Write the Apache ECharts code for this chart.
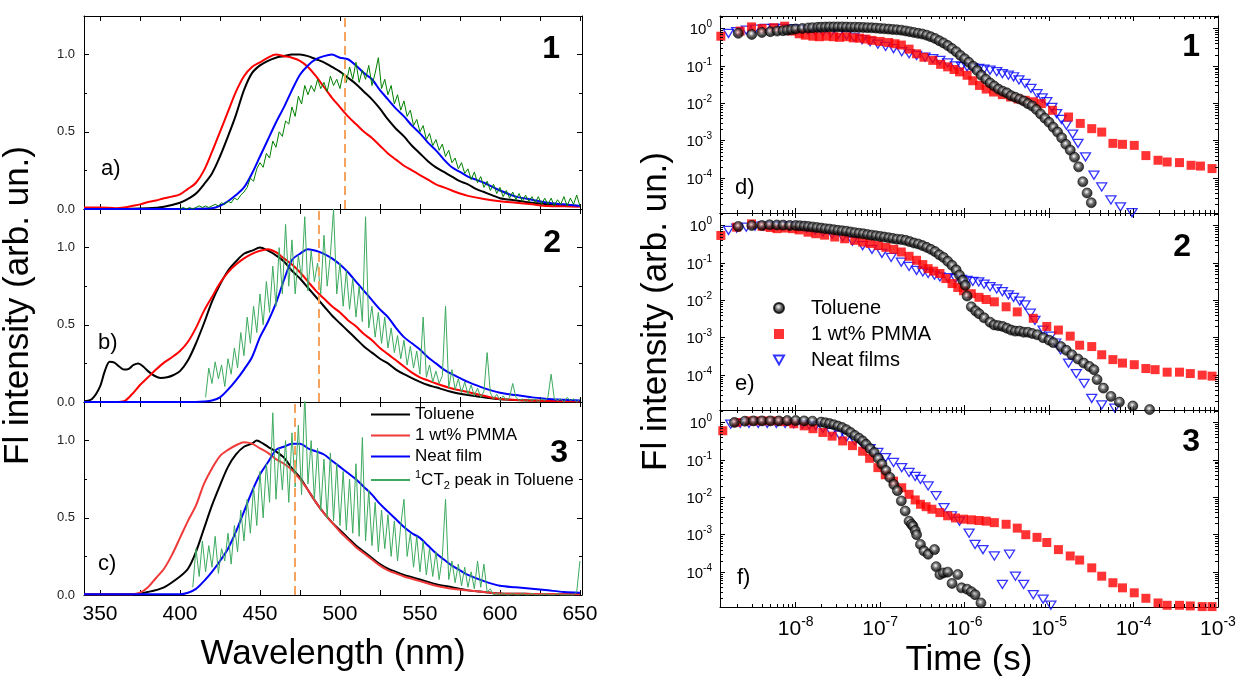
<!DOCTYPE html>
<html><head><meta charset="utf-8">
<script src="https://cdn.jsdelivr.net/npm/echarts@6/dist/echarts.min.js"></script>
<style>html,body{margin:0;padding:0;background:#fff}#c{width:1239px;height:676px}</style>
</head><body><div id="c"></div>
<script>
const FONT = 'Arial, "Liberation Sans", Helvetica, sans-serif';

// ---------------- Steady-state spectra: [wavelength (nm), normalised intensity] ----------------
const toluene1 = [[340,0],[360,0],[380,0.005],[390,0.015],[400,0.04],[405,0.065],[410,0.10],[415,0.16],[420,0.23],[425,0.34],[430,0.47],[435,0.61],[440,0.77],[445,0.88],[450,0.93],[455,0.96],[460,0.98],[465,0.99],[470,1.0],[475,1.0],[480,0.99],[485,0.97],[490,0.95],[495,0.92],[500,0.89],[505,0.85],[510,0.81],[515,0.76],[520,0.71],[525,0.65],[530,0.58],[535,0.52],[540,0.47],[545,0.41],[550,0.36],[555,0.31],[560,0.27],[565,0.24],[570,0.21],[575,0.18],[580,0.16],[585,0.13],[590,0.11],[595,0.09],[600,0.07],[610,0.055],[620,0.04],[630,0.03],[640,0.025],[650,0.02]];
const pmma1 = [[340,0.01],[350,0.01],[360,0.005],[365,0.01],[370,0.02],[375,0.03],[380,0.045],[385,0.055],[390,0.07],[395,0.08],[400,0.095],[405,0.13],[410,0.17],[415,0.25],[420,0.37],[425,0.50],[430,0.63],[435,0.76],[440,0.86],[445,0.92],[450,0.95],[455,0.98],[460,1.0],[465,0.99],[470,0.98],[475,0.96],[480,0.92],[485,0.86],[490,0.79],[495,0.72],[500,0.66],[505,0.60],[510,0.55],[515,0.50],[520,0.46],[525,0.41],[530,0.36],[535,0.32],[540,0.28],[545,0.25],[550,0.22],[555,0.19],[560,0.16],[565,0.14],[570,0.12],[575,0.10],[580,0.085],[590,0.065],[600,0.05],[610,0.04],[620,0.03],[630,0.02],[640,0.018],[650,0.015]];
const neat1 = [[340,0],[400,0],[420,0.005],[425,0.02],[430,0.05],[435,0.09],[440,0.14],[445,0.23],[450,0.34],[455,0.45],[460,0.56],[465,0.66],[470,0.77],[475,0.87],[480,0.93],[485,0.97],[490,0.99],[495,1.0],[500,0.98],[505,0.97],[510,0.93],[515,0.88],[520,0.84],[525,0.77],[530,0.71],[535,0.65],[540,0.60],[545,0.54],[550,0.49],[555,0.43],[560,0.38],[565,0.32],[570,0.27],[575,0.24],[580,0.21],[585,0.19],[590,0.17],[595,0.145],[600,0.12],[610,0.08],[620,0.06],[630,0.04],[640,0.03],[650,0.02]];
const ct2Start1 = 400;
const ct2Vals1 = [0.00,0.01,0.00,0.01,0.00,0.01,0.02,0.01,0.02,0.01,
  0.02,0.03,0.02,0.04,0.03,0.05,0.04,0.07,0.06,0.09,
  0.11,0.14,0.20,0.18,0.26,0.30,0.27,0.36,0.33,0.44,
  0.40,0.50,0.47,0.57,0.55,0.66,0.60,0.73,0.68,0.80,
  0.74,0.80,0.76,0.84,0.78,0.82,0.76,0.86,0.80,0.84,
  0.78,0.88,0.82,0.92,0.84,0.95,0.82,0.90,0.84,0.93,
  0.80,0.88,0.98,0.78,0.84,0.74,0.80,0.68,0.74,0.64,
  0.70,0.60,0.64,0.54,0.58,0.50,0.54,0.45,0.49,0.41,
  0.45,0.38,0.42,0.34,0.38,0.30,0.33,0.26,0.30,0.23,
  0.26,0.19,0.24,0.17,0.21,0.14,0.18,0.12,0.16,0.10,
  0.14,0.08,0.12,0.07,0.11,0.06,0.10,0.05,0.09,0.05,
  0.08,0.04,0.08,0.03,0.07,0.03,0.07,0.02,0.06,0.03,
  0.08,0.02,0.07,0.03,0.09,0.02];

const toluene2 = [[340,0.005],[345,0.02],[350,0.10],[353,0.2],[356,0.26],[359,0.255],[362,0.23],[365,0.21],[368,0.215],[371,0.24],[374,0.25],[377,0.23],[380,0.20],[384,0.17],[388,0.155],[392,0.16],[396,0.175],[400,0.20],[405,0.27],[410,0.38],[415,0.51],[420,0.65],[425,0.76],[430,0.85],[435,0.91],[440,0.96],[445,0.98],[450,1.0],[455,0.98],[460,0.95],[465,0.91],[470,0.85],[475,0.80],[480,0.74],[485,0.68],[490,0.62],[495,0.56],[500,0.51],[505,0.46],[510,0.41],[515,0.36],[520,0.32],[525,0.28],[530,0.25],[535,0.21],[540,0.18],[545,0.155],[550,0.13],[555,0.11],[560,0.095],[570,0.065],[580,0.045],[590,0.03],[600,0.018],[620,0.01],[650,0.004]];
const pmma2 = [[340,0],[360,0],[365,0.005],[370,0.05],[375,0.11],[380,0.16],[385,0.21],[390,0.255],[395,0.29],[400,0.33],[405,0.39],[410,0.48],[415,0.59],[420,0.68],[425,0.77],[430,0.84],[435,0.89],[440,0.93],[445,0.96],[450,0.98],[455,0.99],[460,0.97],[465,0.93],[470,0.89],[475,0.84],[480,0.78],[485,0.72],[490,0.67],[495,0.62],[500,0.58],[505,0.53],[510,0.49],[515,0.44],[520,0.40],[525,0.35],[530,0.31],[535,0.27],[540,0.23],[545,0.19],[550,0.16],[555,0.14],[560,0.12],[570,0.087],[580,0.065],[590,0.04],[600,0.02],[620,0.01],[650,0.005]];
const neat2 = [[340,0],[410,0],[415,0.003],[420,0.01],[425,0.03],[430,0.08],[435,0.14],[440,0.21],[445,0.29],[450,0.42],[455,0.52],[460,0.64],[465,0.79],[470,0.92],[475,0.96],[480,0.99],[485,0.98],[490,0.96],[495,0.93],[500,0.89],[505,0.84],[510,0.78],[515,0.72],[520,0.66],[525,0.60],[530,0.55],[535,0.48],[540,0.42],[545,0.38],[550,0.34],[555,0.29],[560,0.25],[565,0.21],[570,0.18],[575,0.155],[580,0.13],[590,0.09],[600,0.06],[610,0.045],[620,0.03],[630,0.02],[640,0.015],[650,0.01]];
const ct2Start2 = 416;
const ct2Vals2 = [0.03,0.22,0.12,0.26,0.15,0.24,0.10,0.28,0.18,0.35,
  0.22,0.45,0.30,0.55,0.38,0.62,0.45,0.70,0.50,0.78,
  0.58,0.88,0.62,1.00,0.70,1.15,0.75,1.05,0.70,0.95,
  0.80,1.20,0.72,0.98,0.78,0.90,0.70,1.08,0.75,0.95,
  1.25,0.70,0.90,0.62,0.85,0.60,0.80,0.55,0.75,0.52,
  1.20,0.48,0.62,0.42,0.58,0.38,0.55,0.35,0.48,0.32,
  0.43,0.28,0.40,0.24,0.36,0.22,0.33,0.18,0.55,0.16,
  0.24,0.13,0.20,0.12,0.17,0.62,0.09,0.21,0.08,0.15,
  0.06,0.13,0.05,0.11,0.04,0.09,0.03,0.07,0.32,0.06,
  0.02,0.05,0.01,0.04,0.01,0.03,0.12,0.03,0.01,0.02,
  0.00,0.02,0.01,0.02,0.00,0.02,0.01,0.03,0.18,0.02,
  0.01,0.02,0.00,0.03,0.01,0.02,0.00,0.02];

const toluene3 = [[340,0.005],[370,0.005],[380,0.02],[390,0.05],[400,0.12],[405,0.17],[410,0.28],[415,0.43],[420,0.58],[425,0.71],[430,0.83],[435,0.91],[440,0.96],[445,0.98],[448,1.0],[452,0.98],[455,0.96],[460,0.93],[465,0.89],[470,0.82],[475,0.76],[480,0.68],[485,0.60],[490,0.53],[495,0.47],[500,0.42],[505,0.37],[510,0.32],[515,0.28],[520,0.24],[525,0.20],[530,0.17],[535,0.15],[540,0.13],[545,0.115],[550,0.10],[555,0.085],[560,0.07],[570,0.05],[580,0.03],[590,0.02],[600,0.01],[620,0.007],[650,0.005]];
const pmma3 = [[340,0.005],[370,0.005],[375,0.015],[380,0.05],[385,0.11],[390,0.17],[395,0.26],[400,0.37],[405,0.48],[410,0.58],[415,0.72],[420,0.82],[425,0.90],[430,0.94],[435,0.97],[440,0.99],[445,0.98],[450,0.95],[455,0.92],[460,0.88],[465,0.85],[470,0.81],[475,0.75],[480,0.68],[485,0.60],[490,0.53],[495,0.47],[500,0.41],[505,0.36],[510,0.31],[515,0.27],[520,0.23],[525,0.19],[530,0.16],[535,0.14],[540,0.12],[545,0.105],[550,0.09],[555,0.075],[560,0.06],[570,0.04],[580,0.03],[590,0.02],[600,0.01],[620,0.007],[650,0.005]];
const neat3 = [[340,0.005],[400,0.005],[405,0.015],[410,0.04],[415,0.09],[420,0.15],[425,0.22],[430,0.30],[435,0.41],[440,0.54],[445,0.67],[450,0.78],[455,0.86],[460,0.94],[465,0.96],[470,0.98],[475,0.98],[480,0.95],[485,0.93],[490,0.91],[495,0.87],[500,0.83],[505,0.79],[510,0.75],[515,0.70],[520,0.65],[525,0.59],[530,0.54],[535,0.49],[540,0.44],[545,0.40],[550,0.37],[555,0.32],[560,0.27],[565,0.23],[570,0.19],[575,0.16],[580,0.13],[590,0.09],[600,0.06],[610,0.05],[620,0.04],[630,0.03],[640,0.02],[650,0.015]];
const ct2Start3 = 408;
const ct2Vals3 = [0.05,0.30,0.12,0.35,0.15,0.32,0.18,0.38,0.14,0.30,
  0.22,0.40,0.20,0.45,0.28,0.55,0.35,0.62,0.40,0.70,
  0.45,0.80,0.50,0.85,0.60,1.18,0.62,0.95,0.68,1.00,
  0.60,1.05,0.70,1.10,0.65,1.30,0.72,1.00,0.62,0.95,
  0.55,0.88,0.50,0.92,0.48,0.85,0.45,0.80,0.42,0.75,
  0.40,0.85,0.38,1.02,0.35,0.68,0.32,0.60,0.28,0.55,
  0.30,0.52,0.25,0.48,0.22,0.45,0.62,0.25,0.40,0.18,
  0.38,0.15,0.35,0.13,0.30,0.12,0.28,0.10,0.25,0.62,
  0.10,0.22,0.08,0.20,0.06,0.18,0.05,0.15,0.04,0.22,
  0.05,0.20,0.02,0.04,0.00,0.01,0.00,0.01,0.00,0.00,
  0.01,0.00,0.00,0.01,0.00,0.00,0.01,0.00,0.00,0.00,
  0.01,0.00,0.00,0.00,0.01,0.00,0.00,0.00,0.00,0.00,
  0.02,0.22];
const ct2Step = 2;
const peakLines = [503, 487, 472];

// ---------------- Decays: [time (s), normalised intensity] ----------------
const tolDecay1 = [[2.09e-9,0.74],[3.02e-9,0.69],[3.98e-9,0.78],[5.01e-9,0.82],[6.03e-9,0.85],[7.08e-9,0.87],[7.94e-9,0.90],[8.91e-9,0.93],[1.0e-8,0.97],[1.2e-8,1.0],[1.41e-8,1.03],[1.58e-8,1.05],[1.82e-8,1.07],[2.0e-8,1.08],[2.24e-8,1.09],[2.51e-8,1.10],[2.82e-8,1.10],[3.16e-8,1.10],[3.55e-8,1.10],[3.98e-8,1.09],[4.47e-8,1.08],[5.01e-8,1.08],[5.62e-8,1.07],[6.31e-8,1.06],[7.08e-8,1.05],[7.94e-8,1.04],[8.91e-8,1.02],[1.0e-7,1.0],[1.12e-7,0.98],[1.26e-7,0.96],[1.41e-7,0.94],[1.58e-7,0.92],[1.78e-7,0.90],[2.0e-7,0.86],[2.24e-7,0.82],[2.51e-7,0.78],[2.82e-7,0.74],[3.16e-7,0.71],[3.55e-7,0.66],[3.98e-7,0.60],[4.47e-7,0.54],[5.01e-7,0.47],[5.62e-7,0.41],[6.31e-7,0.35],[7.08e-7,0.29],[7.94e-7,0.24],[8.91e-7,0.19],[1.0e-6,0.155],[1.12e-6,0.125],[1.26e-6,0.098],[1.41e-6,0.075],[1.58e-6,0.056],[1.78e-6,0.044],[2.0e-6,0.035],[2.24e-6,0.029],[2.51e-6,0.024],[2.82e-6,0.021],[3.16e-6,0.019],[3.55e-6,0.016],[3.98e-6,0.0145],[4.47e-6,0.013],[5.01e-6,0.0115],[5.62e-6,0.0098],[6.31e-6,0.0085],[7.08e-6,0.0068],[7.94e-6,0.0052],[8.91e-6,0.0040],[1.0e-5,0.0031],[1.12e-5,0.0023],[1.26e-5,0.0017],[1.41e-5,0.0012],[1.58e-5,8.0e-4],[1.78e-5,5.6e-4],[2.0e-5,3.6e-4],[2.24e-5,2.0e-4],[2.51e-5,8.0e-5],[2.82e-5,4.0e-5],[3.16e-5,2.2e-5]];
const pmmaDecay1 = [[1.3e-9,0.62],[2.2e-9,0.85],[3.0e-9,1.10],[4.0e-9,1.0],[5.5e-9,1.05],[7.4e-9,1.15],[9.0e-9,0.85],[1.1e-8,0.72],[1.3e-8,0.66],[1.6e-8,0.62],[1.9e-8,0.60],[2.3e-8,0.62],[2.8e-8,0.60],[3.3e-8,0.58],[4.0e-8,0.60],[4.8e-8,0.56],[5.7e-8,0.55],[6.8e-8,0.52],[8.0e-8,0.48],[1.0e-7,0.45],[1.26e-7,0.42],[1.5e-7,0.39],[1.78e-7,0.36],[2.2e-7,0.28],[2.7e-7,0.21],[3.3e-7,0.17],[4.2e-7,0.14],[5.2e-7,0.11],[6.3e-7,0.094],[7.5e-7,0.08],[8.7e-7,0.069],[1.07e-6,0.056],[1.25e-6,0.040],[1.5e-6,0.030],[1.8e-6,0.024],[2.2e-6,0.020],[2.8e-6,0.017],[3.5e-6,0.0147],[4.3e-6,0.013],[5.2e-6,0.012],[6.5e-6,0.011],[8.1e-6,0.0098],[1.1e-5,0.0065],[1.7e-5,0.0043],[2.34e-5,0.0029],[3.2e-5,0.0021],[4.2e-5,0.0017],[5.7e-5,8.5e-4],[7.4e-5,8.0e-4],[1.02e-4,7.5e-4],[1.4e-4,4.0e-4],[1.95e-4,3.0e-4],[2.5e-4,2.7e-4],[3.5e-4,2.6e-4],[4.8e-4,2.2e-4],[6.2e-4,2.1e-4],[8.5e-4,1.8e-4]];
const neatDecay1 = [[1.6e-9,0.74],[2.0e-9,0.82],[2.6e-9,0.9],[3.3e-9,0.95],[4.4e-9,1.0],[5.5e-9,1.0],[7.0e-9,1.0],[9.0e-9,0.98],[1.1e-8,0.95],[1.4e-8,0.9],[1.7e-8,0.86],[2.1e-8,0.81],[2.6e-8,0.76],[3.2e-8,0.70],[4.0e-8,0.66],[4.9e-8,0.58],[6.1e-8,0.50],[7.6e-8,0.44],[9.4e-8,0.38],[1.16e-7,0.33],[1.44e-7,0.29],[1.8e-7,0.24],[2.2e-7,0.21],[2.7e-7,0.19],[3.4e-7,0.17],[4.2e-7,0.155],[5.1e-7,0.14],[6.3e-7,0.12],[7.8e-7,0.10],[9.2e-7,0.097],[1.07e-6,0.094],[1.25e-6,0.09],[1.47e-6,0.085],[1.7e-6,0.081],[2.0e-6,0.077],[2.4e-6,0.07],[2.8e-6,0.062],[3.3e-6,0.056],[3.8e-6,0.051],[4.4e-6,0.042],[5.2e-6,0.034],[6.1e-6,0.025],[7.2e-6,0.018],[8.3e-6,0.014],[9.4e-6,0.011],[1.08e-5,0.0078],[1.23e-5,0.0053],[1.4e-5,0.0037],[1.6e-5,0.0026],[1.9e-5,0.0015],[2.2e-5,8.5e-4],[2.7e-5,3.7e-4],[3.4e-5,1.2e-4],[4.2e-5,5.8e-5],[5.4e-5,2.6e-5],[7.0e-5,1.7e-5],[9.6e-5,1.2e-5]];

const tolDecay2 = [[2.09e-9,0.94],[3.02e-9,1.0],[3.98e-9,1.0],[4.9e-9,1.04],[6.0e-9,1.03],[7.1e-9,1.02],[8.5e-9,1.0],[1.0e-8,1.0],[1.12e-8,0.98],[1.26e-8,0.96],[1.41e-8,0.94],[1.58e-8,0.91],[1.78e-8,0.88],[2.0e-8,0.85],[2.24e-8,0.82],[2.51e-8,0.80],[2.82e-8,0.77],[3.16e-8,0.74],[3.55e-8,0.72],[3.98e-8,0.70],[4.47e-8,0.67],[5.01e-8,0.64],[5.62e-8,0.62],[6.31e-8,0.60],[7.08e-8,0.57],[7.94e-8,0.55],[8.91e-8,0.53],[1.0e-7,0.51],[1.12e-7,0.49],[1.26e-7,0.47],[1.41e-7,0.45],[1.58e-7,0.43],[1.78e-7,0.42],[2.0e-7,0.40],[2.24e-7,0.37],[2.51e-7,0.34],[2.82e-7,0.32],[3.16e-7,0.29],[3.55e-7,0.26],[3.98e-7,0.23],[4.47e-7,0.20],[5.01e-7,0.165],[5.62e-7,0.14],[6.31e-7,0.11],[7.08e-7,0.086],[7.94e-7,0.065],[8.7e-7,0.047],[9.5e-7,0.034],[1.02e-6,0.025],[1.07e-6,0.013],[1.2e-6,0.0067],[1.35e-6,0.0052],[1.48e-6,0.0044],[1.7e-6,0.0034],[2.0e-6,0.0026],[2.24e-6,0.0022],[2.51e-6,0.0021],[2.82e-6,0.0020],[3.16e-6,0.0018],[3.55e-6,0.0016],[3.98e-6,0.0015],[4.47e-6,0.0015],[5.01e-6,0.0014],[5.62e-6,0.0014],[6.31e-6,0.0013],[7.24e-6,0.0012],[8.5e-6,0.0010],[1.0e-5,8.6e-4],[1.12e-5,7.4e-4],[1.38e-5,5.8e-4],[1.6e-5,4.6e-4],[1.86e-5,3.5e-4],[2.2e-5,2.7e-4],[2.57e-5,2.1e-4],[3.0e-5,1.7e-4],[3.4e-5,1.4e-4],[3.7e-5,7.6e-5],[4.4e-5,4.5e-5],[5.4e-5,2.7e-5],[6.8e-5,1.9e-5],[9.8e-5,1.5e-5],[1.55e-4,1.2e-5]];
const pmmaDecay2 = [[1.3e-9,0.54],[2.0e-9,0.9],[3.0e-9,1.1],[4.0e-9,0.95],[5.0e-9,0.88],[6.0e-9,0.82],[7.5e-9,0.85],[9.2e-9,0.82],[1.1e-8,0.76],[1.4e-8,0.66],[1.73e-8,0.60],[2.2e-8,0.55],[2.9e-8,0.49],[3.8e-8,0.44],[5.0e-8,0.40],[6.2e-8,0.36],[7.6e-8,0.33],[9.5e-8,0.29],[1.17e-7,0.26],[1.45e-7,0.23],[1.78e-7,0.195],[2.2e-7,0.15],[2.7e-7,0.117],[3.2e-7,0.09],[3.7e-7,0.07],[4.3e-7,0.06],[5.1e-7,0.052],[6.0e-7,0.038],[7.1e-7,0.028],[8.3e-7,0.022],[9.7e-7,0.018],[1.2e-6,0.015],[1.48e-6,0.012],[1.8e-6,0.0105],[2.25e-6,0.0091],[3.1e-6,0.0067],[4.2e-6,0.0049],[6.5e-6,0.0033],[9.4e-6,0.0020],[1.29e-5,0.0016],[1.78e-5,0.0011],[2.3e-5,6.3e-4],[3.2e-5,5.8e-4],[4.2e-5,3.5e-4],[5.7e-5,2.6e-4],[7.4e-5,2.1e-4],[1.02e-4,1.9e-4],[1.4e-4,1.5e-4],[1.8e-4,1.4e-4],[2.5e-4,1.2e-4],[3.5e-4,1.2e-4],[4.7e-4,1.1e-4],[6.5e-4,1.0e-4],[8.5e-4,9.4e-5]];
const neatDecay2 = [[1.6e-9,0.74],[2.0e-9,0.85],[2.6e-9,0.9],[3.3e-9,0.95],[4.2e-9,0.96],[5.3e-9,0.96],[6.7e-9,0.96],[8.5e-9,0.95],[1.07e-8,0.92],[1.35e-8,0.85],[1.7e-8,0.75],[2.1e-8,0.66],[2.7e-8,0.58],[3.6e-8,0.49],[4.7e-8,0.38],[6.2e-8,0.29],[8.0e-8,0.23],[1.05e-7,0.18],[1.35e-7,0.14],[1.78e-7,0.105],[2.2e-7,0.08],[2.7e-7,0.063],[3.2e-7,0.057],[3.7e-7,0.052],[4.4e-7,0.047],[5.1e-7,0.042],[6.3e-7,0.040],[7.8e-7,0.038],[9.2e-7,0.036],[1.07e-6,0.034],[1.25e-6,0.032],[1.47e-6,0.031],[1.7e-6,0.027],[2.0e-6,0.023],[2.4e-6,0.020],[2.8e-6,0.017],[3.3e-6,0.014],[3.8e-6,0.012],[4.5e-6,0.0095],[5.2e-6,0.0075],[6.0e-6,0.0045],[6.8e-6,0.0029],[8.5e-6,0.0016],[1.05e-5,0.0011],[1.2e-5,7.2e-4],[1.37e-5,4.7e-4],[1.7e-5,2.1e-4],[2.1e-5,1.1e-4],[2.6e-5,6.0e-5],[3.2e-5,2.4e-5],[4.2e-5,1.6e-5],[6.0e-5,1.3e-5]];

const tolDecay3 = [[1.88e-9,1.0],[2.5e-9,1.08],[3.16e-9,1.1],[3.98e-9,1.1],[5.01e-9,1.1],[6.31e-9,1.1],[7.94e-9,1.12],[1.0e-8,1.12],[1.26e-8,1.1],[1.58e-8,1.08],[2.0e-8,1.02],[2.24e-8,0.98],[2.51e-8,0.93],[2.82e-8,0.87],[3.16e-8,0.80],[3.55e-8,0.73],[3.98e-8,0.64],[4.47e-8,0.54],[5.01e-8,0.45],[5.62e-8,0.38],[6.2e-8,0.32],[6.8e-8,0.26],[7.6e-8,0.20],[8.5e-8,0.157],[9.5e-8,0.11],[1.05e-7,0.077],[1.17e-7,0.052],[1.3e-7,0.034],[1.45e-7,0.022],[1.6e-7,0.015],[1.78e-7,0.008],[1.98e-7,0.0043],[2.2e-7,0.0023],[2.35e-7,0.0019],[2.45e-7,0.0017],[2.6e-7,0.0013],[2.7e-7,0.001],[3.0e-7,5.5e-4],[3.3e-7,3.7e-4],[3.7e-7,3.0e-4],[4.4e-7,4.0e-4],[4.6e-7,1.4e-4],[5.1e-7,8.6e-5],[5.6e-7,9.5e-5],[6.3e-7,1.0e-4],[7.1e-7,5.0e-5],[8.3e-7,8.6e-5],[9.2e-7,3.8e-5],[1.07e-6,3.5e-5],[1.2e-6,3.0e-5],[1.33e-6,2.5e-5],[1.56e-6,1.5e-5]];
const pmmaDecay3 = [[1.37e-9,0.6],[2.0e-9,1.0],[2.8e-9,1.1],[3.6e-9,1.1],[4.6e-9,1.1],[5.9e-9,1.1],[7.5e-9,1.05],[9.5e-9,0.92],[1.26e-8,0.81],[1.6e-8,0.68],[2.1e-8,0.54],[2.7e-8,0.43],[3.6e-8,0.32],[4.7e-8,0.24],[6.2e-8,0.17],[7.5e-8,0.11],[9.4e-8,0.062],[1.15e-7,0.04],[1.44e-7,0.027],[1.8e-7,0.018],[2.2e-7,0.012],[2.6e-7,0.0085],[3.0e-7,0.0065],[3.5e-7,0.0056],[4.1e-7,0.0048],[5.1e-7,0.0039],[6.3e-7,0.0032],[7.8e-7,0.0028],[9.7e-7,0.0026],[1.2e-6,0.0025],[1.48e-6,0.0024],[1.8e-6,0.0023],[2.25e-6,0.0021],[3.1e-6,0.0019],[4.2e-6,0.0015],[5.3e-6,0.001],[7.2e-6,8.5e-4],[9.4e-6,6.2e-4],[1.29e-5,4.0e-4],[1.78e-5,2.7e-4],[2.3e-5,2.1e-4],[3.2e-5,1.3e-4],[4.2e-5,7.8e-5],[5.7e-5,5.2e-5],[7.4e-5,3.8e-5],[1.02e-4,2.8e-5],[1.4e-4,2.0e-5],[1.95e-4,1.5e-5],[2.5e-4,1.3e-5],[3.5e-4,1.3e-5],[4.7e-4,1.25e-5],[6.5e-4,1.2e-5],[8.5e-4,1.2e-5]];
const neatDecay3 = [[1.7e-9,0.9],[2.2e-9,0.94],[2.8e-9,0.94],[3.6e-9,0.94],[4.6e-9,0.94],[5.9e-9,0.94],[7.5e-9,0.94],[9.5e-9,0.92],[1.2e-8,0.88],[1.45e-8,0.85],[1.73e-8,0.81],[2.1e-8,0.7],[2.65e-8,0.54],[3.3e-8,0.46],[4.0e-8,0.4],[5.0e-8,0.32],[6.2e-8,0.26],[7.6e-8,0.2],[9.4e-8,0.157],[1.16e-7,0.115],[1.44e-7,0.085],[1.8e-7,0.062],[2.2e-7,0.046],[2.6e-7,0.036],[3.0e-7,0.030],[3.7e-7,0.020],[4.6e-7,0.011],[5.7e-7,0.0053],[7.0e-7,0.0032],[8.7e-7,0.0023],[1.13e-6,0.0011],[1.33e-6,5.5e-4],[1.65e-6,4.0e-4],[2.25e-6,2.7e-4],[2.8e-6,4.7e-5],[3.4e-6,3.0e-4],[4.0e-6,7.8e-5],[5.0e-6,4.7e-5],[6.5e-6,2.5e-5],[8.5e-6,1.9e-5],[1.05e-5,1.3e-5]];

// ---------------- labels ----------------
const panelNums = ['1', '2', '3'];
const leftTags = ['a)', 'b)', 'c)'];
const rightTags = ['d)', 'e)', 'f)'];
const legendLeft = ['Toluene', '1 wt% PMMA', 'Neat film', '\u00b9CT\u2082 peak in Toluene'];
const legendRight = ['Toluene', '1 wt% PMMA', 'Neat films'];
const xTitleLeft = 'Wavelength (nm)', xTitleRight = 'Time (s)', yTitle = 'Fl intensity (arb. un.)';

// ---------------- layout ----------------
const LG = {left: 84, width: 498, tops: [16, 209, 402], h: 193};
const RG = {left: 720, width: 498, tops: [16, 213, 410], h: 197};
const WL = {min: 340, max: 651.3};
const TX = {min: 1.27e-9, max: 1e-3};
const IY = {min: 1.17e-5, max: 2.15};
const greenCols = ['#008000', '#3DAA5F', '#3DAA5F'];
const redCols = ['#FF0000', '#FF0000', '#F03A3A'];

const grids = [], xAxes = [], yAxes = [], series = [];
const tickCol = '#000';
const lineAx = {show: true, onZero: false, lineStyle: {color: '#000', width: 1}};
const logFmt = v => '{b|10}{s|' + Math.round(Math.log10(v)) + '}';
const logRich = (fs, ss, lift) => ({
  b: {fontSize: fs, lineHeight: fs + lift, verticalAlign: 'bottom', fontFamily: FONT, color: '#000'},
  s: {fontSize: ss, lineHeight: ss, verticalAlign: 'top', fontFamily: FONT, color: '#000'}
});

// Left panels
for (let p = 0; p < 3; p++) {
  grids.push({left: LG.left, top: LG.tops[p], width: LG.width, height: LG.h, containLabel: false, outerBoundsMode: 'none'});
  const g = p;
  const common = {type: 'value', gridIndex: g, min: WL.min, max: WL.max, splitNumber: 6,
    axisLine: lineAx, splitLine: {show: false},
    axisTick: {show: true, inside: true, length: 5, lineStyle: {color: tickCol}},
    minorTick: {show: true, splitNumber: 2, length: 5, lineStyle: {color: tickCol}}};
  xAxes.push(Object.assign({}, common, {position: 'bottom',
    axisLabel: {show: p === 2, fontSize: 21, fontFamily: FONT, color: '#000', margin: 9, showMinLabel: false, showMaxLabel: false},
    name: p === 2 ? xTitleLeft : '', nameLocation: 'middle', nameGap: 42,
    nameTextStyle: {fontSize: 35, fontFamily: FONT, color: '#000'}}));
  xAxes.push(Object.assign({}, common, {position: 'top', axisLabel: {show: false}}));
  const ycommon = {type: 'value', gridIndex: g, min: 0, max: 1.25, interval: 0.5,
    axisLine: lineAx, splitLine: {show: false},
    axisTick: {show: true, inside: true, length: 5, lineStyle: {color: tickCol}},
    minorTick: {show: true, splitNumber: 2, length: 3, lineStyle: {color: tickCol}}};
  yAxes.push(Object.assign({}, ycommon, {position: 'left',
    axisLabel: {show: true, fontSize: 13, fontFamily: FONT, color: '#222', margin: 9, showMaxLabel: false, formatter: v => v.toFixed(1)},
    name: p === 1 ? yTitle : '', nameLocation: 'middle', nameGap: 48,
    nameTextStyle: {fontSize: 35, fontFamily: FONT, color: '#000'}}));
  yAxes.push(Object.assign({}, ycommon, {position: 'right', axisLabel: {show: false}}));
}
// Right panels
for (let p = 0; p < 3; p++) {
  grids.push({left: RG.left, top: RG.tops[p], width: RG.width, height: RG.h, containLabel: false, outerBoundsMode: 'none'});
  const g = 3 + p;
  const common = {type: 'log', logBase: 10, gridIndex: g, min: TX.min, max: TX.max,
    axisLine: lineAx, splitLine: {show: false},
    axisTick: {show: true, inside: true, length: 5, lineStyle: {color: tickCol}}};
  xAxes.push(Object.assign({}, common, {position: 'bottom',
    axisLabel: {show: p === 2, formatter: logFmt, rich: logRich(21, 14, 4), margin: 8, showMinLabel: false},
    name: p === 2 ? xTitleRight : '', nameLocation: 'middle', nameGap: 36,
    nameTextStyle: {fontSize: 35, fontFamily: FONT, color: '#000'}}));
  xAxes.push(Object.assign({}, common, {position: 'top', axisLabel: {show: false}}));
  const ycommon = {type: 'log', logBase: 10, gridIndex: g, min: IY.min, max: IY.max,
    axisLine: lineAx, splitLine: {show: false},
    axisTick: {show: true, inside: true, length: 5, lineStyle: {color: tickCol}}};
  yAxes.push(Object.assign({}, ycommon, {position: 'left',
    axisLabel: {show: true, formatter: logFmt, rich: logRich(15, 10, 3), margin: 8, showMinLabel: false, showMaxLabel: false},
    name: p === 1 ? yTitle : '', nameLocation: 'middle', nameGap: 46,
    nameTextStyle: {fontSize: 35, fontFamily: FONT, color: '#000'}}));
  yAxes.push(Object.assign({}, ycommon, {position: 'right', axisLabel: {show: false}}));
}

// spectra series
const specSets = [
  {tol: toluene1, pmma: pmma1, neat: neat1, gs: ct2Start1, gv: ct2Vals1},
  {tol: toluene2, pmma: pmma2, neat: neat2, gs: ct2Start2, gv: ct2Vals2},
  {tol: toluene3, pmma: pmma3, neat: neat3, gs: ct2Start3, gv: ct2Vals3}
];
specSets.forEach((s, p) => {
  const last = p === 2;
  const base = {type: 'line', xAxisIndex: 2 * p, yAxisIndex: 2 * p, symbol: 'none', showSymbol: false, silent: true, clip: true};
  series.push(Object.assign({}, base, {name: last ? 'L0' : 'tol' + p, data: s.tol, smooth: 0.3,
    lineStyle: {color: '#000', width: 2}, itemStyle: {color: '#000'}}));
  series.push(Object.assign({}, base, {name: last ? 'L1' : 'pmma' + p, data: s.pmma, smooth: 0.3,
    lineStyle: {color: redCols[p], width: 2}, itemStyle: {color: redCols[p]}}));
  series.push(Object.assign({}, base, {name: last ? 'L2' : 'neat' + p, data: s.neat, smooth: 0.3,
    lineStyle: {color: '#0000FF', width: 2}, itemStyle: {color: '#0000FF'}}));
  series.push(Object.assign({}, base, {name: last ? 'L3' : 'ct' + p,
    data: s.gv.map((v, i) => [s.gs + ct2Step * i, v]),
    lineStyle: {color: greenCols[p], width: 1}, itemStyle: {color: greenCols[p]},
    markLine: {silent: true, symbol: ['none', 'none'], label: {show: false},
      lineStyle: {color: '#F5A35E', type: [9, 5], width: 2}, data: [{xAxis: peakLines[p]}]}}));
});

// decay series
const sphere = {type: 'radial', x: 0.45, y: 0.4, r: 0.58, colorStops: [
  {offset: 0, color: '#ffffff'}, {offset: 0.18, color: '#b5b5b5'}, {offset: 0.45, color: '#4a4a4a'}, {offset: 0.75, color: '#111'}, {offset: 1, color: '#000'}]};
const TRI = 'path://M0,0L10,0L5,9Z';
const decaySets = [
  {tol: tolDecay1, pmma: pmmaDecay1, neat: neatDecay1},
  {tol: tolDecay2, pmma: pmmaDecay2, neat: neatDecay2},
  {tol: tolDecay3, pmma: pmmaDecay3, neat: neatDecay3}
];
decaySets.forEach((d, p) => {
  const g = 3 + p;
  const leg = p === 1;
  const base = {type: 'scatter', xAxisIndex: 2 * g, yAxisIndex: 2 * g, silent: true, clip: true};
  series.push(Object.assign({}, base, {name: leg ? 'R2' : 'rn' + p, data: d.neat, symbol: TRI, symbolSize: [10, 9], symbolKeepAspect: true,
    itemStyle: {color: 'rgba(255,255,255,0)', borderColor: '#0000FF', borderWidth: 1.3}}));
  series.push(Object.assign({}, base, {name: leg ? 'R1' : 'rp' + p, data: d.pmma, symbol: 'rect', symbolSize: 9,
    itemStyle: {color: '#FF0000'}}));
  series.push(Object.assign({}, base, {name: leg ? 'R0' : 'rt' + p, data: d.tol, symbol: 'circle', symbolSize: 10,
    itemStyle: {color: sphere, borderColor: '#000', borderWidth: 0.7}}));
});

// log minor ticks (2..9 x 10^k) drawn on the panel frames
const xMinor = [], yMinor = [];
for (let k = -9; k <= -4; k++) for (let m = 2; m <= 9; m++) { const v = m * Math.pow(10, k); if (v > TX.min && v < TX.max) xMinor.push([v, 0.01]); }
for (let k = -5; k <= 0; k++) for (let m = 2; m <= 9; m++) { const v = m * Math.pow(10, k); if (v > IY.min && v < IY.max) yMinor.push([1e-6, v]); }
const tickStyle = {stroke: '#000', lineWidth: 1};
function minorX(params, api) {
  const cs = params.coordSys;
  const x = Math.round(api.coord([api.value(0), api.value(1)])[0]) + 0.5;
  return {type: 'group', children: [
    {type: 'line', shape: {x1: x, y1: cs.y, x2: x, y2: cs.y + 3}, style: tickStyle},
    {type: 'line', shape: {x1: x, y1: cs.y + cs.height, x2: x, y2: cs.y + cs.height - 3}, style: tickStyle}]};
}
function minorY(params, api) {
  const cs = params.coordSys;
  const y = Math.round(api.coord([api.value(0), api.value(1)])[1]) + 0.5;
  return {type: 'group', children: [
    {type: 'line', shape: {x1: cs.x, y1: y, x2: cs.x + 3, y2: y}, style: tickStyle},
    {type: 'line', shape: {x1: cs.x + cs.width, y1: y, x2: cs.x + cs.width - 3, y2: y}, style: tickStyle}]};
}
for (let p = 0; p < 3; p++) {
  const g = 3 + p;
  series.push({type: 'custom', xAxisIndex: 2 * g, yAxisIndex: 2 * g, silent: true, renderItem: minorX, data: xMinor, z: 5});
  series.push({type: 'custom', xAxisIndex: 2 * g, yAxisIndex: 2 * g, silent: true, renderItem: minorY, data: yMinor, z: 5});
}

// annotations
const graphic = [];
const txt = (x, y, text, size, bold, align) => ({type: 'text', x: x, y: y, silent: true, z: 100,
  style: {text: text, fontSize: size, fontWeight: bold ? 'bold' : 'normal', fontFamily: FONT, fill: '#000', align: align, verticalAlign: 'middle'}});
[[560, 49], [561, 243], [568, 453]].forEach((c, i) => graphic.push(txt(c[0], c[1], panelNums[i], 32, true, 'right')));
[[1200, 47], [1191, 247], [1200, 442]].forEach((c, i) => graphic.push(txt(c[0], c[1], panelNums[i], 32, true, 'right')));
[[101, 169], [98, 343], [98, 564]].forEach((c, i) => graphic.push(txt(c[0], c[1], leftTags[i], 22, false, 'left')));
[[735, 188], [735, 384], [737, 578]].forEach((c, i) => graphic.push(txt(c[0], c[1], rightTags[i], 22, false, 'left')));

const legendMapL = {L0: legendLeft[0], L1: legendLeft[1], L2: legendLeft[2]};
const legendMapR = {R0: legendRight[0], R1: legendRight[1], R2: legendRight[2]};

const option = {
  animation: false,
  backgroundColor: '#fff',
  grid: grids, xAxis: xAxes, yAxis: yAxes, series: series, graphic: graphic,
  legend: [
    {orient: 'vertical', left: 371, top: 406, padding: 0, itemWidth: 39, itemHeight: 2, itemGap: 4, selectedMode: false,
      icon: 'rect',
      data: ['L0', 'L1', 'L2', 'L3'],
      formatter: n => n === 'L3' ? '{sup|1}{t|CT}{sub|2}{t| peak in Toluene}' : legendMapL[n],
      textStyle: {fontSize: 17, lineHeight: 17, fontFamily: FONT, color: '#000',
        rich: {t: {fontSize: 17, lineHeight: 22, fontFamily: FONT, color: '#000'},
          sup: {fontSize: 11, lineHeight: 11, verticalAlign: 'top', fontFamily: FONT, color: '#000'},
          sub: {fontSize: 11, lineHeight: 11, verticalAlign: 'bottom', fontFamily: FONT, color: '#000'}}}},
    {orient: 'vertical', left: 773, top: 298, padding: 0, itemWidth: 10, itemHeight: 10, itemGap: 6, selectedMode: false,
      data: ['R0', 'R1', 'R2'], formatter: n => '{g|}' + legendMapR[n],
      textStyle: {fontSize: 20, lineHeight: 20, fontFamily: FONT, color: '#000', rich: {g: {width: 22}}}}
  ]
};
const chart = echarts.init(document.getElementById('c'), null, {renderer: 'canvas', width: 1239, height: 676});
chart.setOption(option);
</script>
</body></html>
